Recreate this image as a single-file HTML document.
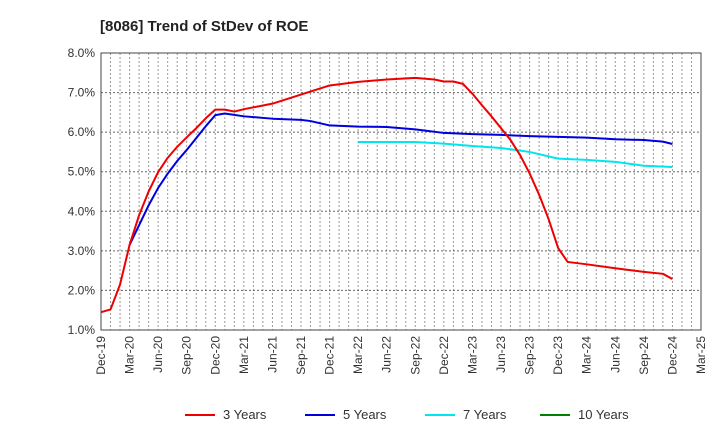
<!DOCTYPE html>
<html><head><meta charset="utf-8"><style>
body{margin:0;background:#fff;font-family:"Liberation Sans",sans-serif;}
</style></head><body>
<svg width="720" height="440" xmlns="http://www.w3.org/2000/svg" font-family="Liberation Sans, sans-serif">
<text x="100" y="31" font-size="15" font-weight="bold" fill="#222">[8086]  Trend of StDev of ROE</text>
<g id="grid"></g>
<g id="series"></g>
<g id="axes"></g>
<g id="legend"></g>
</svg>
<script>
const xTickLabels=["Dec-19","Mar-20","Jun-20","Sep-20","Dec-20","Mar-21","Jun-21","Sep-21","Dec-21","Mar-22","Jun-22","Sep-22","Dec-22","Mar-23","Jun-23","Sep-23","Dec-23","Mar-24","Jun-24","Sep-24","Dec-24","Mar-25"];
const yTicks=[1,2,3,4,5,6,7,8];
const s3m=[0,1,2,3,4,5,6,7,8,9,10,11,12,13,14,15,18,21,24,27,30,33,35,36,37,38,39,40,41,42,43,44,45,46,47,48,49,51,54,57,59,60];
const s3v=[1.45,1.52,2.15,3.15,3.9,4.5,4.99,5.35,5.63,5.87,6.1,6.35,6.57,6.57,6.52,6.58,6.72,6.95,7.18,7.27,7.33,7.37,7.33,7.28,7.28,7.22,6.97,6.68,6.4,6.1,5.8,5.42,4.96,4.42,3.8,3.07,2.72,2.66,2.56,2.47,2.42,2.29];
const s5m=[3,4,5,6,7,8,9,10,11,12,13,15,18,21,22,24,27,30,33,36,39,42,45,48,51,54,57,59,60];
const s5v=[3.15,3.65,4.15,4.59,4.95,5.27,5.55,5.85,6.15,6.43,6.47,6.4,6.34,6.31,6.28,6.17,6.14,6.13,6.07,5.98,5.95,5.93,5.9,5.88,5.86,5.82,5.8,5.76,5.7];
const s7m=[27,30,33,36,39,42,45,48,51,54,57,60];
const s7v=[5.75,5.75,5.75,5.71,5.65,5.6,5.5,5.33,5.3,5.25,5.15,5.12];
const L=101,R=701,T=53,B=330,NM=63;
const X=m=>L+(R-L)*m/NM, Y=v=>B-(B-T)*(v-1)/7;
const NS="http://www.w3.org/2000/svg";
function mk(p,t,a){const e=document.createElementNS(NS,t);for(const k in a)e.setAttribute(k,a[k]);p.appendChild(e);return e;}
const grid=document.getElementById('grid'),axes=document.getElementById('axes'),ser=document.getElementById('series'),leg=document.getElementById('legend');
for(let m=1;m<NM;m++){const l=mk(grid,'line',{x1:X(m),x2:X(m),y1:T,y2:B,stroke:'#999','stroke-dasharray':'2,2','stroke-width':1});

}
yTicks.forEach(v=>{if(v>1&&v<8){const l=mk(grid,'line',{x1:L,x2:R,y1:Y(v),y2:Y(v),stroke:'#666','stroke-dasharray':'2,2','stroke-width':1});

}
const t=mk(axes,'text',{x:L-6,y:Y(v)+4,'text-anchor':'end','font-size':12,fill:'#333'});t.textContent=v.toFixed(1)+'%';

});
xTickLabels.forEach((s,i)=>{const x=X(i*3),y=B+6;const t=mk(axes,'text',{x:x+4,y:y,'text-anchor':'end','font-size':12,fill:'#333',transform:`rotate(-90 ${x+4} ${y})`});t.textContent=s;

});
const fr=mk(axes,'rect',{x:L,y:T,width:R-L,height:B-T,fill:'none',stroke:'#444','stroke-width':1});


function line(ms,vs,c,name){const p=mk(ser,'polyline',{points:ms.map((m,i)=>X(m)+','+Y(vs[i])).join(' '),fill:'none',stroke:c,'stroke-width':2,'stroke-linejoin':'round'});

}
line(s7m,s7v,'#00e5ee','line-7-years');
line(s5m,s5v,'#0000dd','line-5-years');
line(s3m,s3v,'#ee0000','line-3-years');
[["3 Years","#ee0000",185],["5 Years","#0000dd",305],["7 Years","#00e5ee",425],["10 Years","#008000",540]].forEach(e=>{
const g=mk(leg,'g',{});


mk(g,'line',{x1:e[2],x2:e[2]+30,y1:415,y2:415,stroke:e[1],'stroke-width':2});
const t=mk(g,'text',{x:e[2]+38,y:419,'font-size':13,fill:'#333'});t.textContent=e[0];});
</script>
</body></html>
